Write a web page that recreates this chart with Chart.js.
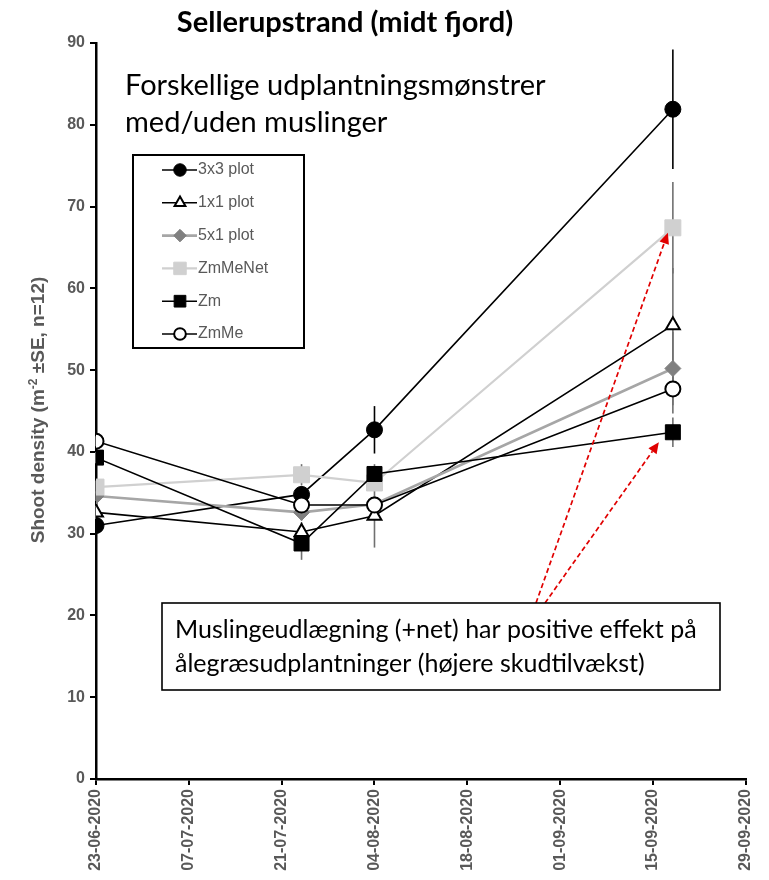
<!DOCTYPE html>
<html><head><meta charset="utf-8">
<script src="https://cdn.jsdelivr.net/npm/chart.js@4.4.1/dist/chart.umd.min.js"></script>
<style>html,body{margin:0;padding:0;background:#fff}#wrap{width:769px;height:880px;position:relative}</style>
</head><body><div id="wrap"><canvas id="c" width="769" height="880" style="width:769px;height:880px"></canvas></div>
<script>
// ---- DATA ----
const sampleDates = ['2020-06-23','2020-07-24','2020-08-04','2020-09-18'];
const seriesNames = ['3x3 plot','1x1 plot','5x1 plot','ZmMeNet','Zm','ZmMe'];
const v3x3    = [31.0, 34.8, 42.7, 81.9];
const v1x1    = [32.6, 30.2, 32.2, 55.5];
const v5x1    = [34.6, 32.6, 33.6, 50.2];
const vZmMeNet= [35.7, 37.2, 36.2, 67.4];
const vZm     = [39.3, 28.8, 37.3, 42.4];
const vZmMe   = [41.3, 33.5, 33.5, 47.7];
const se3x3    = [0.8, 1.0, 2.9, 7.3];
const se1x1    = [0.8, 1.2, 3.9, 7.0];
const se5x1    = [0.6, 1.0, 1.0, 4.5];
const seZmMeNet= [0.8, 1.3, 1.0, 5.6];
const seZm     = [0.7, 2.0, 1.2, 1.8];
const seZmMe   = [0.6, 1.0, 1.0, 3.0];
const yTicks = [0,10,20,30,40,50,60,70,80,90];
const xTickStart = '2020-06-23', xTickStepDays = 14, xTickEnd = '2020-09-29';

const titleText = 'Sellerupstrand (midt fjord)';
const noteLines = ['Forskellige udplantningsmønstrer','med/uden muslinger'];
const boxLines = ['Muslingeudlægning (+net) har positive effekt på','ålegræsudplantninger (højere skudtilvækst)'];

// ---- helpers ----
const DAY = 86400000;
const t0 = Date.parse(xTickStart + 'T00:00:00Z');
const dayOf = s => Math.round((Date.parse(s + 'T00:00:00Z') - t0) / DAY);
const xs = sampleDates.map(dayOf);
const fmt = d => { const dt = new Date(t0 + d*DAY); const p=n=>String(n).padStart(2,'0');
  return p(dt.getUTCDate())+'-'+p(dt.getUTCMonth()+1)+'-'+dt.getUTCFullYear(); };

const values = [v3x3, v1x1, v5x1, vZmMeNet, vZm, vZmMe];
const errs = [se3x3, se1x1, se5x1, seZmMeNet, seZm, seZmMe];
const styles = [
  {line:'#000', lw:1.6, ps:'circle', r:8, fill:'#000', stroke:'#000', bw:1, err:'#000'},
  {line:'#000', lw:1.6, ps:'triangle', r:8, fill:'#fff', stroke:'#000', bw:2, err:'#707070'},
  {line:'#a6a6a6', lw:2.6, ps:'rectRot', r:8, fill:'#808080', stroke:'#808080', bw:1, err:'#707070'},
  {line:'#d0d0d0', lw:2.2, ps:'rect', r:11.3, fill:'#d0d0d0', stroke:'#d0d0d0', bw:1, err:'#707070'},
  {line:'#000', lw:1.6, ps:'rect', r:10.6, fill:'#000', stroke:'#000', bw:1, err:'#707070'},
  {line:'#000', lw:1.6, ps:'circle', r:7.5, fill:'#fff', stroke:'#000', bw:2, err:'#707070'}
];

const datasets = seriesNames.map((n,i)=>({
  label:n,
  data: xs.map((x,j)=>({x:x, y:values[i][j]})),
  borderColor: styles[i].line, borderWidth: styles[i].lw,
  pointStyle: styles[i].ps, pointRadius: styles[i].r, pointHoverRadius: styles[i].r,
  pointBackgroundColor: styles[i].fill, pointBorderColor: styles[i].stroke, pointBorderWidth: styles[i].bw,
  tension:0, fill:false, order: seriesNames.length - i
}));

const LABEL_FONT = "'Liberation Sans', Arial, sans-serif";
const CAL_FONT = "Lato, 'Open Sans', sans-serif";

const errorBars = {
  id:'errorBars',
  beforeDatasetsDraw(chart){
    const {ctx, scales:{x,y}} = chart;
    ctx.save();
    ctx.lineWidth = 1.6;
    values.forEach((vals,i)=>{
      ctx.strokeStyle = styles[i].err;
      vals.forEach((v,j)=>{
        const px = x.getPixelForValue(xs[j]);
        ctx.beginPath();
        ctx.moveTo(px, y.getPixelForValue(v - errs[i][j]));
        ctx.lineTo(px, y.getPixelForValue(v + errs[i][j]));
        ctx.stroke();
      });
    });
    ctx.restore();
  }
};

function arrow(ctx, x1,y1,x2,y2){
  const ang = Math.atan2(y2-y1, x2-x1);
  const hl = 11, hw = 5;
  const bx = x2 - hl*Math.cos(ang), by = y2 - hl*Math.sin(ang);
  ctx.save();
  ctx.strokeStyle = '#e00000'; ctx.fillStyle = '#e00000';
  ctx.lineWidth = 1.7; ctx.setLineDash([5,3]);
  ctx.beginPath(); ctx.moveTo(x1,y1); ctx.lineTo(bx,by); ctx.stroke();
  ctx.setLineDash([]);
  ctx.beginPath();
  ctx.moveTo(x2,y2);
  ctx.lineTo(bx + hw*Math.sin(ang), by - hw*Math.cos(ang));
  ctx.lineTo(bx - hw*Math.sin(ang), by + hw*Math.cos(ang));
  ctx.closePath(); ctx.fill();
  ctx.restore();
}

const decorations = {
  id:'decorations',
  afterDraw(chart){
    const {ctx, scales:{x,y}} = chart;
    ctx.save();
    // title
    ctx.fillStyle = '#000';
    ctx.font = "bold 29px " + CAL_FONT;
    ctx.textAlign = 'center'; ctx.textBaseline = 'alphabetic';
    ctx.fillText(titleText, 345, 32);
    // note
    ctx.textAlign = 'left';
    ctx.font = "29px " + CAL_FONT;
    ctx.fillText(noteLines[0], 125, 95);
    ctx.fillText(noteLines[1], 125, 132);
    // y axis title
    ctx.save();
    ctx.translate(44, 410);
    ctx.rotate(-Math.PI/2);
    ctx.fillStyle = '#595959';
    const f1 = "bold 19px " + LABEL_FONT, f2 = "bold 12px " + LABEL_FONT;
    const a = 'Shoot density (m', b = '-2', c = ' ±SE, n=12)';
    ctx.font = f1; const wa = ctx.measureText(a).width, wc = ctx.measureText(c).width;
    ctx.font = f2; const wb = ctx.measureText(b).width;
    let sx = -(wa+wb+wc)/2;
    ctx.textBaseline = 'alphabetic'; ctx.textAlign='left';
    ctx.font = f1; ctx.fillText(a, sx, 0); sx += wa;
    ctx.font = f2; ctx.fillText(b, sx, -7); sx += wb;
    ctx.font = f1; ctx.fillText(c, sx, 0);
    ctx.restore();
    // legend
    ctx.lineWidth = 2; ctx.strokeStyle = '#000';
    ctx.fillStyle = '#fff';
    ctx.fillRect(133,155,171,193);
    ctx.strokeRect(133,155,171,193);
    seriesNames.forEach((n,i)=>{
      const ly = 170 + i*32.8;
      const st = styles[i];
      ctx.strokeStyle = st.line; ctx.lineWidth = st.lw;
      ctx.beginPath(); ctx.moveTo(162, ly); ctx.lineTo(197, ly); ctx.stroke();
      ctx.fillStyle = st.fill; ctx.strokeStyle = st.stroke; ctx.lineWidth = st.bw;
      Chart.helpers.drawPoint(ctx, {pointStyle: st.ps, radius: st.r*0.78, rotation:0, borderWidth: st.bw}, 180, ly);
      ctx.fillStyle = '#595959';
      ctx.font = "16px " + LABEL_FONT;
      ctx.textBaseline = 'middle';
      ctx.fillText(n, 198, ly);
    });
    // arrows to ZmMeNet and Zm at last date
    const lx = x.getPixelForValue(xs[3]);
    arrow(ctx, 536, 603, lx - 5, y.getPixelForValue(vZmMeNet[3]) + 5);
    arrow(ctx, 545, 603, lx - 14, y.getPixelForValue(vZm[3]) + 10);
    // text box
    ctx.fillStyle = '#fff'; ctx.strokeStyle = '#000'; ctx.lineWidth = 1.6;
    ctx.fillRect(162,603,558,87); ctx.strokeRect(162,603,558,87);
    ctx.fillStyle = '#000'; ctx.font = "25px " + CAL_FONT; ctx.textBaseline='alphabetic';
    ctx.fillText(boxLines[0], 175, 638);
    ctx.fillText(boxLines[1], 175, 672);
    ctx.restore();
  }
};

new Chart(document.getElementById('c'), {
  type:'line',
  data:{datasets},
  options:{
    responsive:false, animation:false, devicePixelRatio:1,
    layout:{padding:{top:43, right:21, left:0, bottom:0}},
    plugins:{legend:{display:false}, tooltip:{enabled:false}, title:{display:false}},
    scales:{
      x:{type:'linear', min:0, max:dayOf(xTickEnd),
        afterFit(s){ s.height = 101; },
        afterBuildTicks(s){ const t=[]; for(let d=0; d<=dayOf(xTickEnd); d+=xTickStepDays) t.push({value:d}); s.ticks=t; },
        ticks:{callback:v=>fmt(v), minRotation:90, maxRotation:90, autoSkip:false, color:'#595959',
          font:{family:LABEL_FONT, size:16, weight:'bold'}, padding:4},
        grid:{display:true, drawOnChartArea:false, drawTicks:true, tickLength:6, color:'#000', lineWidth:2},
        border:{display:true, color:'#000', width:2.5}
      },
      y:{min:0, max:90,
        afterFit(s){ s.width = 96; },
        afterBuildTicks(s){ s.ticks = yTicks.map(v=>({value:v})); },
        ticks:{color:'#595959', font:{family:LABEL_FONT, size:16, weight:'bold'}, padding:5},
        grid:{display:true, drawOnChartArea:false, drawTicks:true, tickLength:6, color:'#000', lineWidth:2},
        border:{display:true, color:'#000', width:2.5}
      }
    }
  },
  plugins:[errorBars, decorations]
});
</script></body></html>
